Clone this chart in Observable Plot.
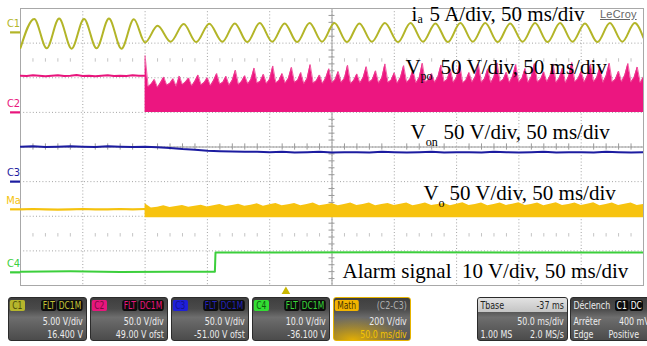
<!DOCTYPE html>
<html><head><meta charset="utf-8">
<script src="https://cdn.jsdelivr.net/npm/d3@7"></script>
<script src="https://cdn.jsdelivr.net/npm/@observablehq/plot@0.6"></script>
<style>
html,body{margin:0;padding:0;background:#fff;}
body{width:647px;height:346px;overflow:hidden;position:relative;font-family:"DejaVu Sans Condensed","Liberation Sans",sans-serif;}
#chart{position:absolute;left:0;top:0;}
#logo{position:absolute;left:600px;top:8px;font:11px "Liberation Sans",Arial,sans-serif;color:#666;text-decoration:underline;letter-spacing:0.2px;}
#panel{position:absolute;left:0;top:295px;width:647px;height:51px;overflow:hidden;}
.box{position:absolute;top:2px;height:44px;border-radius:3px;box-sizing:border-box;border:1px solid #2b2b2b;
 background:linear-gradient(to bottom,#3f3f3f 0%,#4a4a4a 26%,#6e6e6e 46%,#5e5e5e 70%,#4b4b4b 100%);color:#ececec;overflow:hidden;}
.inner{position:absolute;left:0;top:0;height:100%;width:125%;transform:scaleX(0.8);transform-origin:0 0;font-size:11px;}
.tag{position:absolute;top:2px;height:11px;line-height:11px;padding:0 3px;border-radius:2px;font-size:10.5px;}
.tags{position:absolute;right:4px;top:2px;display:flex;gap:1px;}
.tags span{background:#0c0c0c;border-radius:3px;height:11px;line-height:11px;padding:0 2px;font-size:10.5px;}
.r1,.r2,.r3{position:absolute;right:4px;line-height:11px;height:11px;white-space:nowrap;}
.l1,.l2,.l3{position:absolute;left:3px;line-height:11px;height:11px;white-space:nowrap;}
.r1,.l1{top:2px}.r2,.l2{top:18px}.r3,.l3{top:31px}
</style>
</head><body>
<div id="chart"></div>
<div id="logo">LeCroy</div>
<div id="panel">
 <div class="box" style="left:8px;width:79px"><div class="inner">
  <span class="tag" style="left:1px;background:#b5b52c;color:#4a4a08">C1</span>
  <div class="tags" style="color:#c4c436"><span>FLT</span><span>DC1M</span></div>
  <div class="r2">5.00 V/div</div><div class="r3">16.400 V</div>
 </div></div>
 <div class="box" style="left:90px;width:78px"><div class="inner">
  <span class="tag" style="left:1px;background:#e8167c;color:#7a0a40">C2</span>
  <div class="tags" style="color:#e8167c"><span>FLT</span><span>DC1M</span></div>
  <div class="r2">50.0 V/div</div><div class="r3">49.00 V ofst</div>
 </div></div>
 <div class="box" style="left:171px;width:78px"><div class="inner">
  <span class="tag" style="left:1px;background:#1f1fd8;color:#14148a">C3</span>
  <div class="tags" style="color:#2424b8"><span>FLT</span><span>DC1M</span></div>
  <div class="r2">50.0 V/div</div><div class="r3">-51.00 V ofst</div>
 </div></div>
 <div class="box" style="left:252px;width:78px"><div class="inner">
  <span class="tag" style="left:1px;background:#33dd33;color:#0e5a0e">C4</span>
  <div class="tags" style="color:#3ad63a"><span>FLT</span><span>DC1M</span></div>
  <div class="r2">10.0 V/div</div><div class="r3">-36.100 V</div>
 </div></div>
 <div class="box" style="left:333px;width:78px;border:1px solid #e6b400;background:radial-gradient(ellipse 70% 55% at 25% 100%,rgba(235,180,0,0.95),rgba(235,180,0,0) 100%),linear-gradient(to bottom,#3f3f3f 0%,#4a4a4a 26%,#6a6a6a 46%,#555 100%)"><div class="inner">
  <span class="tag" style="left:1px;background:#f2b400;color:#4a3600">Math</span>
  <div class="r1" style="color:#b0b0b0">(C2-C3)</div>
  <div class="r2">200 V/div</div><div class="r3" style="color:#f5c400">50.0 ms/div</div>
 </div></div>
 <div class="box" style="left:477px;width:91px">
  <div style="position:absolute;left:0;right:0;top:0;height:14px;background:linear-gradient(#e2e2e2,#c4c4c4)"></div>
  <div class="inner">
   <div class="l1" style="color:#222">Tbase</div><div class="r1" style="color:#222">-37 ms</div>
   <div class="r2">50.0 ms/div</div>
   <div class="l3">1.00 MS</div><div class="r3">2.0 MS/s</div>
  </div>
 </div>
 <div class="box" style="left:570px;width:92px"><div class="inner">
  <div class="l1">Déclench</div>
  <div class="tags" style="left:55px;right:auto;color:#fff"><span>C1</span><span>DC</span></div>
  <div class="l2">Arrêter</div><div class="l2" style="left:60px">400 mV</div>
  <div class="l3">Edge</div><div class="l3" style="left:47px">Positive</div>
 </div></div>
</div>
<script>
// ---- scope screen: 10 div × 50 ms/div horizontally, 8 divisions vertically ----
const timeDomain = [0, 500];          // ms
const divDomain = [-4, 4];            // screen divisions
const eventTime = 100;                // ms, fault instant
const triggerTime = 213;              // ms (Tbase -37 ms from centre)

// C1: i_a (peaks / troughs, in divisions)
const c1Time = [0, 11, 21, 31, 41, 51, 61, 71, 81, 91, 100, 110, 120.5, 131, 141, 151.5, 162, 172, 182, 192, 202, 212, 222, 232, 242, 252, 262, 272, 282, 292.5, 303, 313, 323, 333, 343, 353, 363, 373, 383, 393, 403, 413, 423, 433, 443, 453, 463, 473, 483, 493, 500];
const c1Div  = [2.86, 3.70, 2.85, 3.71, 2.84, 3.70, 2.85, 3.71, 2.84, 3.69, 3.02, 3.50, 3.04, 3.55, 3.03, 3.56, 3.04, 3.57, 3.03, 3.58, 3.04, 3.57, 3.03, 3.58, 3.04, 3.58, 3.03, 3.57, 3.04, 3.58, 3.03, 3.58, 3.04, 3.57, 3.03, 3.58, 3.04, 3.58, 3.03, 3.57, 3.04, 3.58, 3.03, 3.58, 3.04, 3.57, 3.03, 3.58, 3.04, 3.58, 3.15];

// C2: V_po (before fault: a trace; after fault: PWM band from ground up to the envelope)
const vpoGround = 1.0;
const vpoPreStep = 5;
const vpoPre = [2.06, 2.05, 2.07, 2.06, 2.04, 2.06, 2.07, 2.05, 2.06, 2.08, 2.05, 2.06, 2.04, 2.06, 2.07, 2.05, 2.06, 2.05, 2.07, 2.06, 2.06];
const vpoStep = 2.5;
const vpoTop = [
 2.64, 1.74, 1.82, 1.95,  1.72, 1.86, 2.02, 1.78,  1.84, 1.97, 1.75, 2.05,  1.80, 1.88, 1.99, 1.76,
 1.90, 2.08, 1.79, 1.86,  2.00, 1.77, 1.92, 2.12,  1.81, 1.87, 2.04, 1.78,  1.93, 2.22, 1.80, 1.89,
 2.06, 1.82, 1.95, 2.28,  1.84, 1.90, 2.10, 1.83,  1.96, 2.34, 1.85, 1.92,  2.12, 1.84, 1.98, 2.30,
 1.86, 1.93, 2.15, 1.82,  1.97, 2.38, 1.84, 1.91,  2.08, 1.83, 1.99, 2.26,  1.85, 1.94, 2.18, 1.86,
 1.98, 2.36, 1.83, 1.92,  2.11, 1.85, 2.00, 2.32,  1.87, 1.95, 2.20, 1.84,  1.99, 2.40, 1.86, 1.93,
 2.14, 1.84, 2.01, 2.35,  1.86, 1.96, 2.22, 1.85,  2.00, 2.42, 1.87, 1.94,  2.12, 1.86, 2.02, 2.37,
 1.88, 1.95, 2.24, 1.86,  2.01, 2.40, 1.85, 1.93,  2.15, 1.87, 2.03, 2.39,  1.86, 1.97, 2.26, 1.85,
 2.02, 2.43, 1.88, 1.95,  2.16, 1.86, 2.04, 2.38,  1.87, 1.98, 2.27, 1.86,  2.03, 2.41, 1.87, 1.96,
 2.17, 1.88, 2.05, 2.40,  1.86, 1.99, 2.28, 1.85,  2.04, 2.44, 1.88, 1.97,  2.18, 1.87, 2.06, 2.39,
 1.88, 2.00, 2.30, 1.86,  2.05, 2.42, 1.87, 1.96,  2.19, 1.88, 2.07, 2.41,  1.87, 2.01, 2.31, 1.85,
 2.02];

// C3: V_on
const c3Step = 10;
const c3Div = [0.01, 0.02, 0.00, 0.01, 0.02, 0.01, 0.00, 0.02, 0.01, 0.00, 0.01,
 -0.01, -0.03, -0.06, -0.08, -0.11, -0.12, -0.13, -0.14, -0.14, -0.15,
 -0.14, -0.16, -0.15, -0.14, -0.16, -0.15, -0.15, -0.16, -0.14, -0.15,
 -0.16, -0.15, -0.14, -0.16, -0.15, -0.15, -0.16, -0.14, -0.15, -0.16,
 -0.15, -0.14, -0.16, -0.15, -0.15, -0.16, -0.14, -0.15, -0.16, -0.15];

// Math (C2-C3): V_o
const voPreStep = 10;
const voPre = [-1.80, -1.79, -1.80, -1.81, -1.80, -1.79, -1.80, -1.80, -1.79, -1.80, -1.79];
const voBottom = -2.04;
const voStep = 5;
const voTop = [-1.64, -1.76, -1.74, -1.70, -1.75, -1.72, -1.69, -1.74, -1.71, -1.68, -1.73, -1.70, -1.66, -1.72, -1.69, -1.65,
 -1.71, -1.68, -1.64, -1.71, -1.67, -1.63, -1.70, -1.67, -1.63, -1.70, -1.66, -1.62, -1.70, -1.67, -1.63, -1.70,
 -1.66, -1.62, -1.69, -1.66, -1.62, -1.70, -1.66, -1.63, -1.69, -1.65, -1.62, -1.70, -1.66, -1.62, -1.69, -1.66,
 -1.63, -1.70, -1.65, -1.61, -1.69, -1.66, -1.62, -1.70, -1.66, -1.62, -1.69, -1.65, -1.61, -1.69, -1.66, -1.62,
 -1.70, -1.65, -1.61, -1.69, -1.66, -1.62, -1.69, -1.65, -1.61, -1.70, -1.66, -1.62, -1.69, -1.65, -1.62, -1.69, -1.66];

// C4: alarm signal
const c4Time = [0, 40, 80, 120, 156, 156.5, 200, 300, 400, 500];
const c4Div  = [-3.60, -3.59, -3.61, -3.60, -3.60, -3.05, -3.05, -3.04, -3.05, -3.05];

// channel tags on the left edge (ground / offset markers)
const channelNames  = ["C1", "C2", "C3", "Ma", "C4"];
const channelGround = [3.31, 1.0, -1.0, -1.8, -3.62];
const channelColors = ["#b3b528", "#e8157c", "#1c1ca0", "#f5c20e", "#3ccf3c"];

// annotations
const notes = [
 {t: 313.8, v: 3.653, s: "i", z: 21},
 {t: 318.7, v: 3.59, s: "a", z: 12},
 {t: 328.3, v: 3.653, s: "5 A/div, 50 ms/div", z: 21},
 {t: 309.0, v: 2.094, s: "V", z: 21},
 {t: 321.0, v: 1.93, s: "po", z: 12},
 {t: 337.1, v: 2.094, s: "50 V/div, 50 ms/div", z: 21},
 {t: 313.0, v: 0.245, s: "V", z: 21},
 {t: 325.2, v: 0.02, s: "on", z: 12},
 {t: 339.5, v: 0.245, s: "50 V/div, 50 ms/div", z: 21},
 {t: 323.4, v: -1.545, s: "V", z: 21},
 {t: 335.4, v: -1.747, s: "o", z: 12},
 {t: 344.3, v: -1.545, s: "50 V/div, 50 ms/div", z: 21},
 {t: 258.4, v: -3.769, s: "Alarm signal\u00a0\u00a010 V/div, 50 ms/div", z: 21}
];

// ---- build tables ----
const c1 = c1Time.map((t, i) => ({t, v: c1Div[i]}));
const vpoA = vpoPre.map((v, i) => ({t: i * vpoPreStep, v}));
const vpoB = vpoTop.map((v, i) => ({t: eventTime + i * vpoStep, v}));
const c3 = c3Div.map((v, i) => ({t: i * c3Step, v}));
const voA = voPre.map((v, i) => ({t: i * voPreStep, v}));
const voB = voTop.map((v, i) => ({t: eventTime + i * voStep, v}));
const c4 = c4Time.map((t, i) => ({t, v: c4Div[i]}));
const chans = channelNames.map((n, i) => ({n, g: channelGround[i], c: channelColors[i]}));

const divX = d3.range(0, 501, 50);
const divY = d3.range(-4, 5, 1);
const minorX = d3.range(0, 501, 10).filter(d => d % 50 !== 0);
const minorY = d3.range(-4, 4.001, 0.2).filter(d => Math.abs(d - Math.round(d)) > 1e-6);
const serif = "Liberation Serif, Times New Roman, serif";
const grid = "#a3a3a3";

const plot = Plot.plot({
  width: 647, height: 295,
  marginLeft: 20, marginRight: 4, marginTop: 8, marginBottom: 10,
  x: {domain: timeDomain, axis: null},
  y: {domain: divDomain, axis: null},
  style: {background: "transparent", overflow: "visible"},
  marks: [
    Plot.ruleX(divX, {x: d => d, stroke: grid, strokeDasharray: "1,2.2", strokeWidth: 1}),
    Plot.ruleY(divY, {y: d => d, stroke: grid, strokeDasharray: "1,2.2", strokeWidth: 1}),
    Plot.ruleX(minorX, {x: d => d, y1: 2.45, y2: 2.55, stroke: "#c4c4c4"}),
    Plot.ruleX(minorX, {x: d => d, y1: -2.5, y2: -2.6, stroke: "#c4c4c4"}),
    Plot.ruleX(minorX, {x: d => d, y1: -0.09, y2: 0.09, stroke: "#9a9a9a"}),
    Plot.ruleY(minorY, {y: d => d, x1: 247.6, x2: 252.4, stroke: "#9a9a9a"}),
    Plot.ruleY([0], {stroke: "#9a9a9a"}),
    Plot.ruleX([250], {stroke: "#9a9a9a"}),
    Plot.frame({stroke: "#a8a8a8"}),
    // C2 V_po
    Plot.line(vpoA, {x: "t", y: "v", stroke: "#e8157c", strokeWidth: 2, clip: true}),
    Plot.area(vpoB, {x1: "t", y1: () => vpoGround, y2: "v", fill: "#ec1680", clip: true}),
    Plot.line(vpoB, {x: "t", y: "v", stroke: "#ee3f92", strokeWidth: 0.8, clip: true}),
    // C1 i_a
    Plot.line(c1, {x: "t", y: "v", stroke: "#b3b528", strokeWidth: 2, curve: "monotone-x", clip: true}),
    // C3 V_on
    Plot.line(c3, {x: "t", y: "v", stroke: "#1c1ca0", strokeWidth: 2, clip: true}),
    // Math V_o
    Plot.line(voA, {x: "t", y: "v", stroke: "#f5c20e", strokeWidth: 2.2, clip: true}),
    Plot.area(voB, {x1: "t", y1: () => voBottom, y2: "v", fill: "#f7c30f", clip: true}),
    // C4 alarm
    Plot.line(c4, {x: "t", y: "v", stroke: "#3ccf3c", strokeWidth: 2, clip: true}),
    // channel tags
    Plot.ruleY(chans, {y: "g", x1: -8, x2: 0, stroke: "c", strokeWidth: 2.2}),
    Plot.text(chans, {x: () => 0, y: "g", text: "n", fill: "c", dx: -7, dy: -9, fontSize: 11,
      fontFamily: "DejaVu Sans Condensed, sans-serif", textAnchor: "middle"}),
    // trigger marker
    Plot.dot([triggerTime], {x: d => d, frameAnchor: "bottom", dy: 6, symbol: "triangle", r: 3.2, fill: "#c9b700", stroke: null}),
    // annotations
    Plot.text(notes, {x: "t", y: "v", text: "s", fontSize: d => d.z, fontFamily: serif, fill: "#000", textAnchor: "start", lineAnchor: "bottom"})
  ]
});
document.getElementById("chart").appendChild(plot);
</script>
</body></html>
